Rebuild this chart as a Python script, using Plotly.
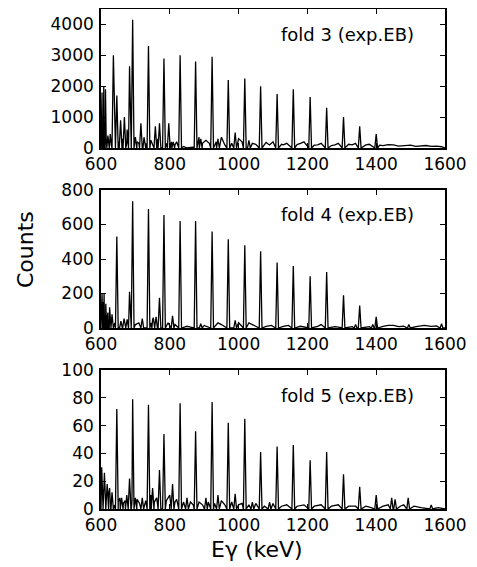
import plotly.graph_objects as go

# ---------------- data ----------------
x_ticks = [600, 800, 1000, 1200, 1400, 1600]

# fold 3
f3_peak_E = [603, 608, 613, 620, 627, 636, 646, 657, 668, 676, 683, 692, 700, 716, 726,
             738, 758, 770, 783, 797, 810, 830, 875, 890, 923, 940, 970, 990, 1018, 1030,
             1064, 1112, 1159, 1208, 1256, 1305, 1352, 1400]
f3_peak_h = [1800, 2000, 1900, 400, 450, 3000, 1700, 900, 1000, 600, 2650, 4150, 350, 800, 300,
             3300, 700, 800, 2900, 800, 200, 3000, 2800, 300, 2950, 300, 2200, 500, 2250, 250,
             2000, 1750, 1900, 1650, 1300, 1000, 700, 450]
f3_bg_E = [600, 605, 615, 625, 630, 650, 662, 675, 705, 710, 725, 730, 745, 750, 765, 790, 805,
           815, 820, 840, 850, 860, 868, 885, 895, 905, 915, 935, 950, 960, 980, 1000, 1010,
           1040, 1050, 1080, 1090, 1100, 1125, 1130, 1140, 1170, 1180, 1190, 1220, 1230, 1240,
           1270, 1280, 1290, 1320, 1330, 1340, 1370, 1380, 1410, 1420, 1435, 1450, 1465, 1480,
           1490, 1500, 1515, 1530, 1545, 1560, 1575, 1590, 1600]
f3_bg_h = [0, 100, 300, 150, 100, 200, 300, 150, 200, 150, 350, 150, 250, 100, 300, 150, 200,
           100, 200, 50, 0, 20, 30, 350, 150, 250, 150, 200, 350, 100, 150, 300, 200,
           150, 120, 180, 100, 200, 120, 100, 150, 110, 150, 200, 90, 100, 150,
           80, 100, 150, 120, 100, 150, 100, 120, 90, 80, 110, 100, 60, 70,
           100, 90, 50, 60, 80, 50, 60, 40, 0]

# fold 4
f4_peak_E = [603, 609, 614, 620, 625, 632, 646, 658, 667, 676, 683, 692, 720, 738, 752, 760,
             770, 783, 808, 830, 875, 890, 923, 970, 990, 1018, 1064, 1112, 1159, 1208, 1256,
             1305, 1340, 1352, 1390, 1400, 1495, 1590]
f4_peak_h = [200, 200, 140, 90, 120, 80, 530, 40, 55, 50, 210, 735, 55, 690, 60, 65,
             175, 655, 70, 620, 620, 25, 560, 515, 45, 480, 445, 380, 360, 300, 325,
             190, 20, 130, 20, 65, 20, 25]
f4_bg_E = [600, 606, 618, 640, 655, 700, 710, 745, 750, 795, 815, 850, 860, 900, 940, 950,
           1000, 1030, 1040, 1080, 1095, 1130, 1145, 1180, 1195, 1230, 1240, 1280, 1290, 1330,
           1380, 1420, 1435, 1450, 1465, 1480, 1520, 1540, 1560, 1575, 1600]
f4_bg_h = [0, 150, 60, 30, 20, 20, 30, 30, 50, 30, 20, 10, 5, 15, 30, 20,
           30, 30, 20, 10, 15, 10, 15, 10, 5, 10, 20, 8, 5, 8,
           8, 10, 15, 15, 8, 10, 10, 15, 10, 12, 0]

# fold 5
f5_peak_E = [602, 610, 618, 625, 632, 646, 660, 675, 683, 692, 700, 720, 738, 750, 770, 783,
             808, 830, 850, 875, 905, 923, 940, 970, 990, 1018, 1040, 1064, 1090, 1112, 1159,
             1208, 1256, 1305, 1352, 1400, 1445, 1455, 1493, 1560]
f5_peak_h = [30, 26, 18, 15, 12, 72, 8, 10, 22, 79, 8, 8, 75, 15, 28, 54,
             18, 76, 8, 56, 8, 77, 10, 62, 11, 65, 5, 41, 5, 45, 46,
             35, 41, 25, 16, 10, 8, 7, 8, 3]
f5_bg_E = [600, 605, 615, 622, 640, 650, 655, 665, 670, 690, 705, 712, 730, 745, 755, 762,
           790, 800, 815, 820, 840, 860, 868, 885, 895, 912, 930, 950, 960, 980, 1000, 1010,
           1030, 1050, 1075, 1100, 1125, 1140, 1170, 1190, 1220, 1240, 1270, 1290, 1320, 1340,
           1370, 1385, 1420, 1435, 1470, 1480, 1510, 1530, 1580, 1600]
f5_bg_h = [0, 10, 5, 10, 3, 5, 8, 4, 6, 5, 7, 4, 6, 10, 5, 8,
           6, 10, 5, 7, 5, 5, 3, 5, 3, 5, 4, 6, 3, 5, 3, 4,
           3, 4, 2, 4, 2, 3, 2, 3, 2, 3, 2, 3, 2, 2,
           2, 1, 2, 3, 2, 3, 2, 1, 1, 0]

panel_labels = ["fold 3 (exp.EB)", "fold 4 (exp.EB)", "fold 5 (exp.EB)"]
y_ranges = [[0, 4500], [0, 800], [0, 100]]
y_dticks = [1000, 200, 20]

# ---------------- styling ----------------
HW = 4  # half-width of drawn peaks (keV)
FONT = "DejaVu Sans"
W, H = 477, 567
OFF = 8  # page body margin offset
PX_L, PX_R = 101 - OFF, 445 - OFF
panel_px = [(9 - OFF, 148 - OFF), (190 - OFF, 328 - OFF), (370 - OFF, 509 - OFF)]
M_L, M_R = PX_L, W - PX_R
M_T, M_B = panel_px[0][0], H - panel_px[2][1]
PH = H - M_T - M_B
PW = W - M_L - M_R


def spectrum(pe, ph, be, bh):
    pts = list(zip(be, bh))
    for e, h in zip(pe, ph):
        pts += [(e - HW, 0), (e, h), (e + HW, 0)]
    pts.sort()
    return [p[0] for p in pts], [p[1] for p in pts]


data = [(f3_peak_E, f3_peak_h, f3_bg_E, f3_bg_h),
        (f4_peak_E, f4_peak_h, f4_bg_E, f4_bg_h),
        (f5_peak_E, f5_peak_h, f5_bg_E, f5_bg_h)]

fig = go.Figure()
layout = dict(
    width=W, height=H, showlegend=False,
    margin=dict(l=M_L, r=M_R, t=M_T, b=M_B, autoexpand=False),
    plot_bgcolor="white", paper_bgcolor="white",
    font=dict(family=FONT, size=17, color="black"),
)
annotations = []
for i, (pe, ph, be, bh) in enumerate(data):
    xs, ys = spectrum(pe, ph, be, bh)
    sfx = "" if i == 0 else str(i + 1)
    fig.add_trace(go.Scatter(x=xs, y=ys, mode="lines", xaxis="x" + sfx, yaxis="y" + sfx,
                             line=dict(color="black", width=1.3), hoverinfo="skip"))
    top, bot = panel_px[i]
    dom = [1 - (bot - M_T) / PH, 1 - (top - M_T) / PH]
    axis_common = dict(showline=True, linecolor="black", linewidth=1.6, mirror="ticks",
                       ticks="inside", ticklen=5, tickcolor="black", tickwidth=1.3,
                       showgrid=False, zeroline=False, automargin=False,
                       tickfont=dict(family=FONT, size=17, color="black"))
    layout["xaxis" + sfx] = dict(axis_common, range=[600, 1600], tickvals=x_ticks,
                                 anchor="y" + sfx, domain=[0, 1], ticklabelstandoff=0)
    layout["yaxis" + sfx] = dict(axis_common, range=y_ranges[i], dtick=y_dticks[i],
                                 anchor="x" + sfx, domain=dom, ticklabelstandoff=2)
    annotations.append(dict(text=panel_labels[i], xref="x" + sfx, yref="y" + sfx + " domain",
                            x=1516, y=0.82, xanchor="right", yanchor="middle", showarrow=False,
                            font=dict(family=FONT, size=18, color="black")))

annotations.append(dict(text="Counts", xref="paper", yref="paper",
                        x=(25 - OFF - M_L) / PW, y=1 - (250 - OFF - M_T) / PH,
                        xanchor="center", yanchor="middle", textangle=-90, showarrow=False,
                        font=dict(family=FONT, size=22, color="black")))
annotations.append(dict(text="Eγ (keV)", xref="paper", yref="paper",
                        x=(257 - OFF - M_L) / PW, y=1 - (549 - OFF - M_T) / PH,
                        xanchor="center", yanchor="middle", showarrow=False,
                        font=dict(family=FONT, size=22, color="black")))
layout["annotations"] = annotations
fig.update_layout(**layout)
fig.write_html("out.html")
